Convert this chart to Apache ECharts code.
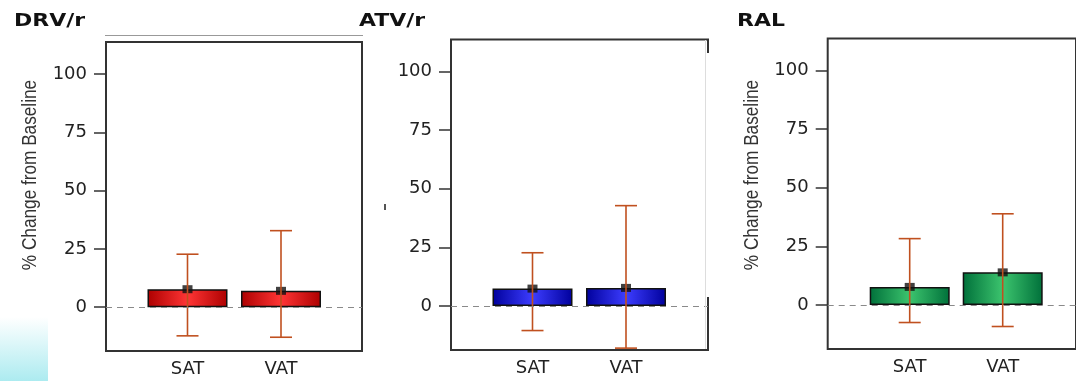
<!DOCTYPE html>
<html lang="en">
<head>
    <meta charset="UTF-8">
    <title>% Change from Baseline</title>
    <script src="https://cdn.jsdelivr.net/npm/echarts@6/dist/echarts.min.js"></script>
    <style>
        html, body { margin: 0; padding: 0; background: #fff; }
        #chart { width: 1076px; height: 381px; }
    </style>
</head>
<body>
    <div id="chart"></div>
    <script>
        // values
        const categories = ['SAT', 'VAT'];
        const yTicks = [0, 25, 50, 75, 100];
        const yMin = -18.8;
        const yMax = 113.7;

        const drvMean = [7.7, 7.0];
        const drvLow = [-12.3, -12.9];
        const drvHigh = [22.7, 32.8];

        const atvMean = [7.4, 7.7];
        const atvLow = [-10.5, -18.0];
        const atvHigh = [22.7, 42.8];

        const ralMean = [7.7, 13.9];
        const ralLow = [-7.5, -9.2];
        const ralHigh = [28.3, 38.9];

        // layout of each panel: frame box + narrower box holding the two bars
        const panels = [
            { title: 'DRV/r', titleX: 14, mean: drvMean, low: drvLow, high: drvHigh,
              frame: { left: 106, top: 42, width: 256, height: 309 },
              inner: { left: 140.75, width: 187 },
              dark: '#ad0000', light: '#ff3535' },
            { title: 'ATV/r', titleX: 359, mean: atvMean, low: atvLow, high: atvHigh,
              frame: { left: 451, top: 39.5, width: 257, height: 310.5 },
              inner: { left: 485.75, width: 187 },
              dark: '#00009c', light: '#3d3dff' },
            { title: 'RAL', titleX: 737, mean: ralMean, low: ralLow, high: ralHigh,
              frame: { left: 827.7, top: 38.5, width: 256, height: 310.5 },
              inner: { left: 863.2, width: 186 },
              dark: '#00703a', light: '#3cc46e' }
        ];

        const errColor = '#c0501f';
        const font = 'DejaVu Sans';

        const grid = [], xAxis = [], yAxis = [], series = [], graphic = [];

        panels.forEach((p, i) => {
            const fg = i * 2, ig = i * 2 + 1;
            grid.push({
                left: p.frame.left, top: p.frame.top, width: p.frame.width, height: p.frame.height,
                show: true, borderColor: '#333', borderWidth: 2, backgroundColor: 'transparent'
            });
            grid.push({
                left: p.inner.left, top: p.frame.top, width: p.inner.width, height: p.frame.height
            });
            graphic.push({
                type: 'text', x: p.titleX, y: 21, scaleX: 1.22,
                style: { text: p.title, font: 'bold 18px "DejaVu Sans"', fill: '#111', textVerticalAlign: 'middle' }
            });

            // frame axes
            xAxis.push({ type: 'value', gridIndex: fg, min: 0, max: 1, show: false });
            yAxis.push({
                type: 'value', gridIndex: fg, min: yMin, max: yMax,
                axisLine: { show: false },
                splitLine: { show: false },
                axisTick: { show: true, length: 12, customValues: yTicks, lineStyle: { color: '#333', width: 1.5 } },
                axisLabel: { customValues: yTicks, margin: 19, fontFamily: font, fontSize: 18, color: '#222' }
            });
            // bar axes
            xAxis.push({
                type: 'category', gridIndex: ig, data: categories,
                axisLine: { show: false }, axisTick: { show: false },
                axisLabel: { margin: 9, fontFamily: font, fontSize: 18, color: '#222' }
            });
            yAxis.push({ type: 'value', gridIndex: ig, min: yMin, max: yMax, show: false });

            // dashed zero line across the frame
            series.push({
                type: 'line', xAxisIndex: fg, yAxisIndex: fg, data: [], z: 1,
                markLine: {
                    silent: true, symbol: 'none', label: { show: false },
                    lineStyle: { type: [6, 5], color: '#8a8a8a', width: 1 },
                    data: [{ yAxis: 0 }]
                }
            });
            series.push({
                type: 'bar', xAxisIndex: ig, yAxisIndex: ig, data: p.mean, barWidth: 80, z: 2,
                itemStyle: {
                    borderColor: '#111', borderWidth: 1.5,
                    color: new echarts.graphic.LinearGradient(0, 0, 1, 0, [
                        { offset: 0, color: p.dark },
                        { offset: 0.5, color: p.light },
                        { offset: 1, color: p.dark }
                    ])
                }
            });
            series.push({
                type: 'scatter', xAxisIndex: ig, yAxisIndex: ig, data: p.mean, z: 3,
                symbol: 'rect', symbolSize: [10, 8], itemStyle: { color: '#111' }
            });
            series.push({
                type: 'custom', xAxisIndex: ig, yAxisIndex: ig, z: 4,
                data: categories.map((c, k) => [k, p.low[k], p.high[k]]),
                renderItem: function (params, api) {
                    const lo = api.coord([api.value(0), api.value(1)]);
                    const hi = api.coord([api.value(0), api.value(2)]);
                    const w = 11;
                    const st = { stroke: errColor, lineWidth: 1.6 };
                    return {
                        type: 'group',
                        children: [
                            { type: 'line', shape: { x1: lo[0], y1: lo[1], x2: hi[0], y2: hi[1] }, style: st },
                            { type: 'line', shape: { x1: hi[0] - w, y1: hi[1], x2: hi[0] + w, y2: hi[1] }, style: st },
                            { type: 'line', shape: { x1: lo[0] - w, y1: lo[1], x2: lo[0] + w, y2: lo[1] }, style: st }
                        ]
                    };
                }
            });
        });

        const yName = { text: '% Change from Baseline', font: '20px "Liberation Sans"', fill: '#333', textAlign: 'center', textVerticalAlign: 'middle' };

        graphic.push(
            { type: 'text', x: 30, y: 175, rotation: Math.PI / 2, scaleX: 0.86, style: yName },
            { type: 'text', x: 752, y: 175, rotation: Math.PI / 2, scaleX: 0.86, style: yName },
            { type: 'line', shape: { x1: 105, y1: 35.5, x2: 363, y2: 35.5 }, style: { stroke: '#999', lineWidth: 1 } },
            // cut-off right border of the middle panel
            { type: 'rect', z: 100, shape: { x: 703, y: 53, width: 8, height: 244 }, style: { fill: '#fff' } },
            { type: 'line', z: 101, shape: { x1: 705.5, y1: 40, x2: 705.5, y2: 349 }, style: { stroke: '#ddd', lineWidth: 1 } },
            { type: 'rect', shape: { x: 384, y: 204, width: 2, height: 6 }, style: { fill: '#555' } },
            {
                type: 'rect', z: -1, shape: { x: 0, y: 317, width: 48, height: 64 },
                style: { fill: new echarts.graphic.LinearGradient(0, 0, 0, 1, [
                    { offset: 0, color: '#ffffff' },
                    { offset: 1, color: '#acebf0' }
                ]) }
            }
        );

        const chart = echarts.init(document.getElementById('chart'), null, { renderer: 'canvas' });
        chart.setOption({
            animation: false,
            backgroundColor: '#fff',
            grid: grid,
            xAxis: xAxis,
            yAxis: yAxis,
            series: series,
            graphic: graphic
        });
    </script>
</body>
</html>
